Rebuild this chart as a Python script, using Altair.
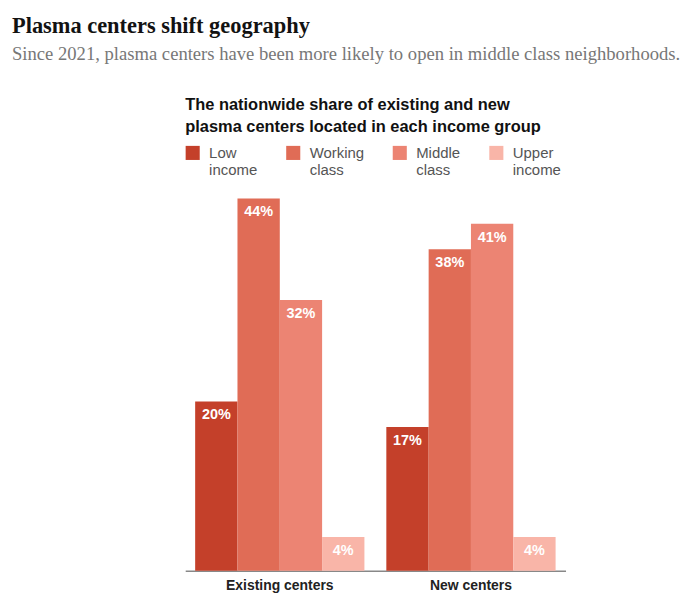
import pandas as pd
import altair as alt

# chart values
groups = ["Existing centers", "New centers"]
income_groups = ["Low income", "Working class", "Middle class", "Upper income"]
existing_share = [20, 44, 32, 4]
new_share = [17, 38, 41, 4]
palette = ["#c4402a", "#e06c56", "#ec8473", "#f9b5a8"]

rows = []
for g, vals in zip(groups, [existing_share, new_share]):
    for inc, v in zip(income_groups, vals):
        rows.append({"group": g, "income": inc, "share": v, "label": f"{v}%"})
df = pd.DataFrame(rows)

x = alt.X("group:N", sort=groups,
          scale=alt.Scale(paddingInner=0.1146, paddingOuter=0.052),
          axis=alt.Axis(title=None, labelAngle=0, labelFont="Liberation Sans",
                        labelFontWeight="bold", labelFontSize=14, labelColor="#222",
                        labelPadding=8, ticks=False, domainColor="#888",
                        domainWidth=1.5))
y = alt.Y("share:Q", scale=alt.Scale(domain=[0, 44], nice=False),
          axis=alt.Axis(title=None, labels=False, ticks=False, domain=False,
                        grid=False, minExtent=174))
xoff = alt.XOffset("income:N", sort=income_groups,
                   scale=alt.Scale(paddingInner=0, paddingOuter=0))

bars = alt.Chart(df).mark_bar().encode(
    x=x, y=y, xOffset=xoff,
    color=alt.Color("income:N", sort=income_groups,
                    scale=alt.Scale(domain=income_groups, range=palette),
                    legend=alt.Legend(
                        title=["The nationwide share of existing and new",
                               "plasma centers located in each income group"],
                        titleFont="Liberation Sans", titleFontSize=16.5,
                        titleFontWeight="bold", titleColor="#111",
                        titleLineHeight=22, titlePadding=10, titleLimit=600,
                        orient="top", direction="horizontal", columns=4,
                        symbolType="square", symbolSize=200, symbolStrokeWidth=0,
                        symbolOpacity=1, labelFont="Liberation Sans",
                        labelFontSize=15, labelColor="#555",
                        labelExpr="split(datum.label, ' ')",
                        labelOffset=9, columnPadding=28, offset=20)),
)

labels = alt.Chart(df).mark_text(
    baseline="middle", dy=14, color="white", font="Liberation Sans",
    fontWeight="bold", fontSize=14.5,
).encode(x=x, y=y, xOffset=xoff, text="label:N")

chart = (bars + labels).properties(
    width=382, height=374,
    padding={"left": 4, "top": 5, "right": 5, "bottom": 5},
    title=alt.TitleParams(
        "Plasma centers shift geography",
        subtitle="Since 2021, plasma centers have been more likely to open in middle class neighborhoods.",
        anchor="start", font="Liberation Serif", fontSize=22.5, fontWeight="bold",
        color="#121212", subtitleFont="Liberation Serif", subtitleFontSize=18.7,
        subtitleColor="#777", subtitlePadding=8, offset=33,
    ),
).configure_view(stroke=None)

chart.save("out.html", embed_options={"renderer": "svg", "actions": False})
